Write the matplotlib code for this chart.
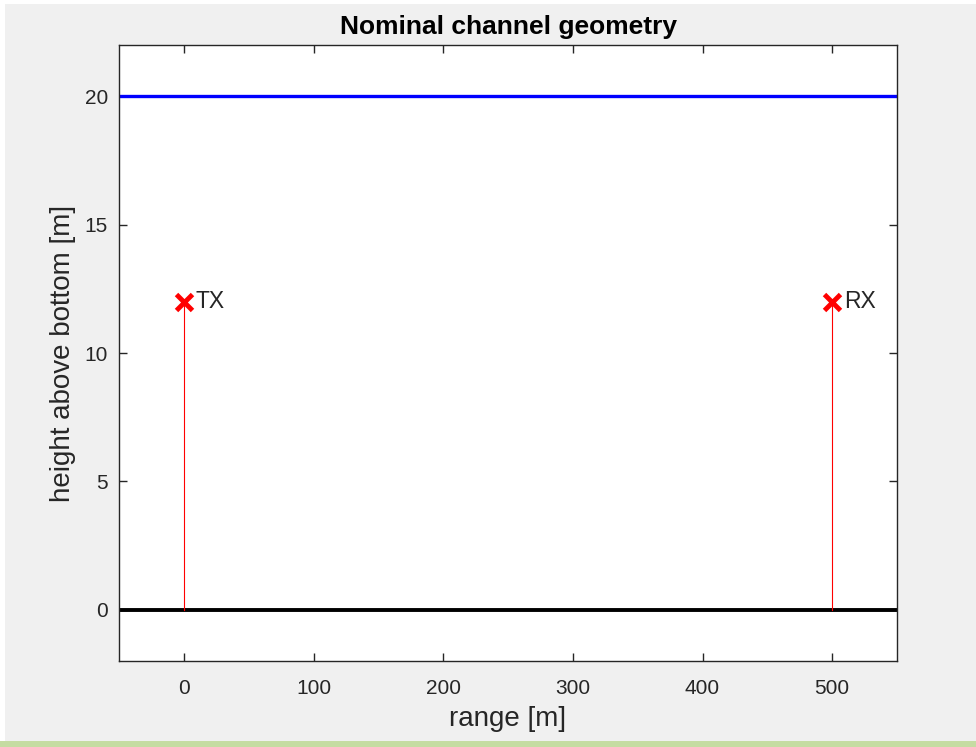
import matplotlib
matplotlib.use('Agg')
import matplotlib.pyplot as plt
from matplotlib.patches import Rectangle

# geometria nominal do canal
dist_range = [-50, 550]
altura_superficie = 20
altura_fundo = 0
tx_pos = [0, 12]
rx_pos = [500, 12]
xticks = [0, 100, 200, 300, 400, 500]
yticks = [0, 5, 10, 15, 20]

plt.rcParams['font.family'] = ['Liberation Sans', 'DejaVu Sans']

fig = plt.figure(figsize=(9.76, 7.47), dpi=100, facecolor='#f0f0f0')
# bordas da captura de tela
fig.patches.append(Rectangle((0, 0), 5 / 976, 1, transform=fig.transFigure,
                             facecolor='white', edgecolor='none', zorder=-1))
fig.patches.append(Rectangle((0, 1 - 4 / 747), 1, 4 / 747, transform=fig.transFigure,
                             facecolor='white', edgecolor='none', zorder=-1))
fig.patches.append(Rectangle((0, 0), 1, 6 / 747, transform=fig.transFigure,
                             facecolor='#c5dca2', edgecolor='none', zorder=-1))

ax = fig.add_axes([119 / 976, 1 - 661 / 747, (897 - 119) / 976, (661 - 45) / 747])

ax.plot(dist_range, [altura_superficie] * 2, color='#0000ff', lw=2.4)
ax.plot(dist_range, [altura_fundo] * 2, color='black', lw=2.8)

ax.plot([tx_pos[0]] * 2, [altura_fundo, tx_pos[1]], color='red', lw=0.8)
ax.plot([rx_pos[0]] * 2, [altura_fundo, rx_pos[1]], color='red', lw=0.8)
ax.plot([tx_pos[0], rx_pos[0]], [tx_pos[1], rx_pos[1]], ls='none', marker='x',
        color='red', ms=12, mew=3.5)
ax.text(tx_pos[0] + 9, tx_pos[1], 'TX', fontsize=16.5, va='center', color='#262626')
ax.text(rx_pos[0] + 9, rx_pos[1], 'RX', fontsize=16.5, va='center', color='#262626')

ax.set_xlim(dist_range)
ax.set_ylim(-2, 22)
ax.set_xticks(xticks)
ax.set_yticks(yticks)
ax.tick_params(direction='in', top=True, right=True, length=6, width=1,
               labelsize=15, colors='#262626')
ax.tick_params(axis='x', pad=13)
ax.tick_params(axis='y', pad=8)
for s in ax.spines.values():
    s.set_color('#262626')
    s.set_linewidth(1)

ax.set_title('Nominal channel geometry', fontsize=19, fontweight='bold', pad=8)
ax.set_xlabel('range [m]', fontsize=20, color='#262626', labelpad=6)
ax.set_ylabel('height above bottom [m]', fontsize=20, color='#262626', labelpad=6)

fig.savefig('out.png', dpi=100, facecolor=fig.get_facecolor())
